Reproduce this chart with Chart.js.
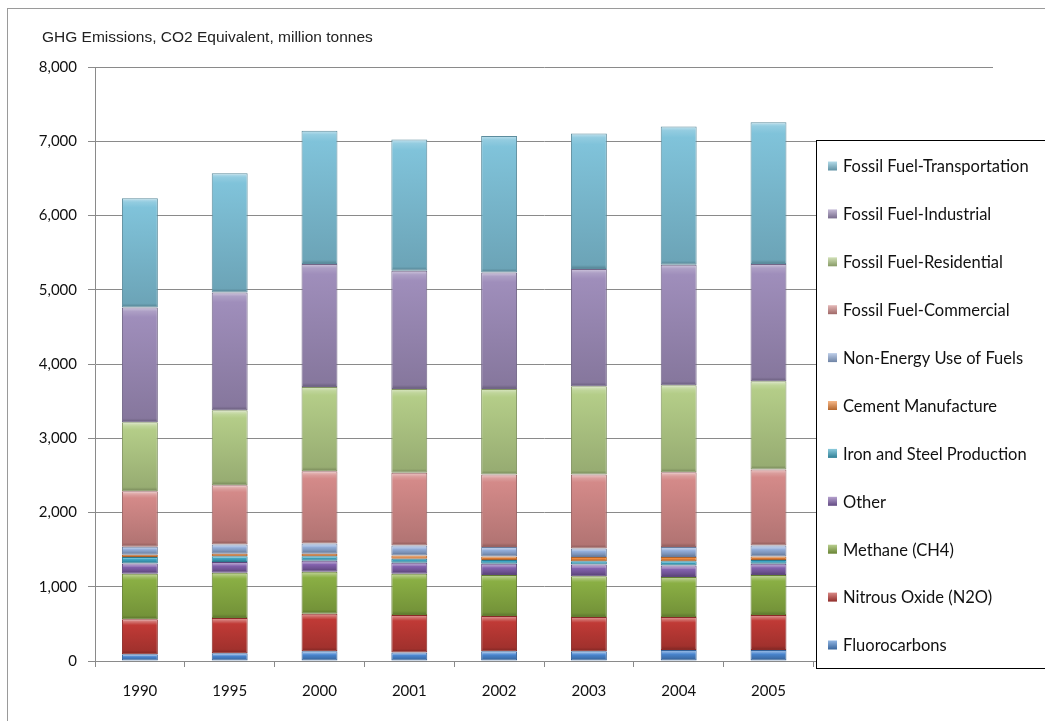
<!DOCTYPE html>
<html>
<head>
<meta charset="utf-8">
<script src="https://cdn.jsdelivr.net/npm/chart.js"></script>
<style>
  html, body { margin: 0; padding: 0; background: #fff; }
  #wrap { width: 1045px; height: 721px; }
</style>
</head>
<body>
<div id="wrap"><canvas id="ghg-chart" width="1045" height="721"></canvas></div>
<script>
// GHG emissions, CO2 equivalent, million tonnes
var years = ["1990", "1995", "2000", "2001", "2002", "2003", "2004", "2005", "", ""];
var yTicks = [0, 1000, 2000, 3000, 4000, 5000, 6000, 7000, 8000];

var fluorocarbons  = [90, 104, 130, 113, 130, 130, 148, 148];
var nitrousOxide   = [471, 474, 508, 506, 475, 462, 444, 471];
var methane        = [615, 611, 565, 557, 552, 551, 538, 538];
var other          = [138, 143, 148, 148, 153, 158, 157, 153];
var ironSteel      = [85, 80, 61, 53, 49, 44, 58, 49];
var cement         = [32, 33, 33, 45, 49, 54, 54, 49];
var nonEnergy      = [108, 125, 138, 134, 126, 117, 135, 148];
var commercial     = [748, 798, 973, 978, 977, 995, 1008, 1023];
var residential    = [928, 1008, 1135, 1130, 1153, 1188, 1171, 1188];
var industrial     = [1547, 1588, 1655, 1592, 1569, 1580, 1623, 1579];
var transportation = [1472, 1606, 1797, 1766, 1839, 1824, 1861, 1910];

// bottom to top
var series = [
	{ label: "Fluorocarbons", data: fluorocarbons, color: "#4A86D0" },
	{ label: "Nitrous Oxide (N2O)", data: nitrousOxide, color: "#C03A36" },
	{ label: "Methane (CH4)", data: methane, color: "#8AAF44" },
	{ label: "Other", data: other, color: "#8362AE" },
	{ label: "Iron and Steel Production", data: ironSteel, color: "#3FA9C6" },
	{ label: "Cement Manufacture", data: cement, color: "#F0883A" },
	{ label: "Non-Energy Use of Fuels", data: nonEnergy, color: "#93AEDA" },
	{ label: "Fossil Fuel-Commercial", data: commercial, color: "#D48A89" },
	{ label: "Fossil Fuel-Residential", data: residential, color: "#B4CD88" },
	{ label: "Fossil Fuel-Industrial", data: industrial, color: "#9F8EBB" },
	{ label: "Fossil Fuel-Transportation", data: transportation, color: "#80C3DA" },
];

function shade(hex, amt) {
	var n = parseInt(hex.slice(1), 16);
	var r = (n >> 16) & 255, g = (n >> 8) & 255, b = n & 255;
	function f(c) {
		var v = amt >= 0 ? c + (255 - c) * amt : c * (1 + amt);
		return Math.round(Math.max(0, Math.min(255, v)));
	}
	return "rgb(" + f(r) + "," + f(g) + "," + f(b) + ")";
}

// bevel-ish vertical gradient per stacked segment
function segmentFill(dsIndex) {
	return function (ctx) {
		var base = series[dsIndex].color;
		if (ctx.type !== "data") return base;
		var chart = ctx.chart, y = chart.scales.y;
		if (!y) return base;
		var i = ctx.dataIndex, start = 0;
		for (var k = 0; k < dsIndex; k++) start += series[k].data[i] || 0;
		var end = start + (series[dsIndex].data[i] || 0);
		var top = y.getPixelForValue(end), bot = y.getPixelForValue(start);
		if (!isFinite(top) || !isFinite(bot) || bot - top < 1) return base;
		var h = bot - top, e = Math.min(0.3, 4 / h);
		var g = chart.ctx.createLinearGradient(0, top, 0, bot);
		g.addColorStop(0, shade(base, 0.5));
		g.addColorStop(e, shade(base, 0.15));
		g.addColorStop(Math.min(0.5, e + 0.05), base);
		g.addColorStop(Math.max(0.5, 1 - e), shade(base, -0.16));
		g.addColorStop(1, shade(base, -0.35));
		return g;
	};
}

var datasets = series.map(function (s, idx) {
	return {
		label: s.label,
		data: s.data,
		backgroundColor: segmentFill(idx),
		borderColor: shade(s.color, -0.28),
		borderWidth: 1,
		borderSkipped: false,
		categoryPercentage: 1,
		barPercentage: 0.4,
	};
});

var tickFont = { family: "Lato, 'Open Sans', sans-serif", size: 15 };

// white background, outer frame and the title line
var framePlugin = {
	id: "frame",
	beforeDraw: function (chart) {
		var c = chart.ctx;
		c.save();
		c.fillStyle = "#fff";
		c.fillRect(0, 0, chart.width, chart.height);
		c.strokeStyle = "#9a9a9a";
		c.lineWidth = 1;
		c.strokeRect(7.5, 8.5, chart.width + 10, chart.height + 10);
		c.fillStyle = "#222";
		c.font = "15.5px 'Liberation Sans', Arial, sans-serif";
		c.textBaseline = "middle";
		c.fillText("GHG Emissions, CO2 Equivalent, million tonnes", 42, 38);
		c.restore();
	},
};

// legend box laid over the right part of the plot, as in the original
var boxLegend = {
	id: "boxLegend",
	afterDraw: function (chart) {
		var c = chart.ctx;
		var x = 816.5, y = 140.5, rowH = 47.9;
		c.save();
		c.fillStyle = "#fff";
		c.fillRect(x, y, 260, 528);
		c.strokeStyle = "#000";
		c.lineWidth = 1;
		c.strokeRect(x, y, 260, 528);
		c.font = "16.5px Lato, 'Open Sans', sans-serif";
		c.textBaseline = "middle";
		var items = chart.data.datasets.slice().reverse();
		items.forEach(function (ds, n) {
			var col = series[series.length - 1 - n].color;
			var cy = 166 + n * rowH;
			var g = c.createLinearGradient(0, cy - 4.5, 0, cy + 4.5);
			g.addColorStop(0, shade(col, 0.4));
			g.addColorStop(1, shade(col, -0.25));
			c.fillStyle = g;
			c.fillRect(828, cy - 4.5, 9, 9);
			c.fillStyle = "#111";
			c.fillText(ds.label, 843, cy + 1);
		});
		c.restore();
	},
};

new Chart(document.getElementById("ghg-chart").getContext("2d"), {
	type: "bar",
	data: { labels: years, datasets: datasets },
	plugins: [framePlugin, boxLegend],
	options: {
		responsive: false,
		animation: false,
		layout: { padding: { left: 0, right: 52, top: 67, bottom: 0 } },
		plugins: {
			legend: { display: false },
			tooltip: { enabled: false },
		},
		scales: {
			x: {
				stacked: true,
				afterFit: function (s) { s.height = 60; },
				grid: { drawOnChartArea: false, drawTicks: true, tickLength: 6, color: "#8a8a8a", offset: true },
				border: { color: "#8a8a8a" },
				ticks: { font: tickFont, color: "#111", padding: 15, maxRotation: 0, autoSkip: false },
			},
			y: {
				stacked: true,
				min: 0,
				max: 8000,
				afterFit: function (s) { s.width = 95; },
				afterBuildTicks: function (s) {
					s.ticks = yTicks.map(function (v) { return { value: v }; });
				},
				grid: { color: "#8a8a8a", tickLength: 7 },
				border: { color: "#8a8a8a" },
				ticks: {
					font: tickFont,
					color: "#111",
					padding: 11,
					callback: function (v) { return v.toLocaleString("en-US"); },
				},
			},
		},
	},
});
</script>
</body>
</html>
